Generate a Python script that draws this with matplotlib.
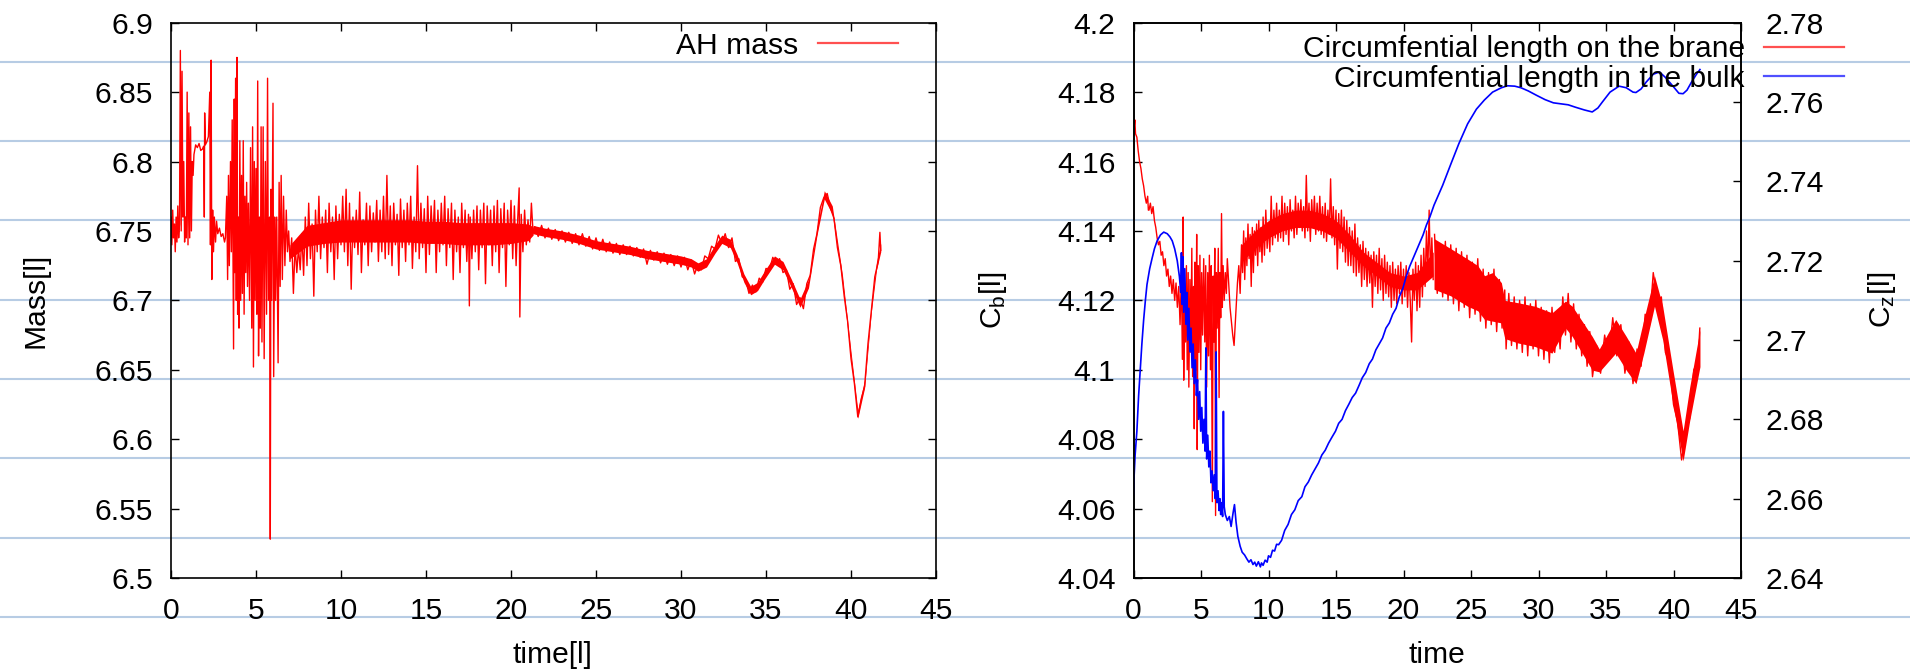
import numpy as np
import matplotlib
matplotlib.use("Agg")
import matplotlib.pyplot as plt
from matplotlib.lines import Line2D

plt.rcParams['font.family'] = ['Liberation Sans', 'DejaVu Sans']
plt.rcParams['mathtext.fontset'] = 'custom'
plt.rcParams['mathtext.rm'] = 'Liberation Sans'
plt.rcParams['mathtext.it'] = 'Liberation Sans'

# ---------------------------------------------------------------- ticks
time_ticks = [0, 5, 10, 15, 20, 25, 30, 35, 40, 45]
time_tick_labels = ["0", "5", "10", "15", "20", "25", "30", "35", "40", "45"]
mass_ticks = [6.5, 6.55, 6.6, 6.65, 6.7, 6.75, 6.8, 6.85, 6.9]
mass_tick_labels = ["6.5", "6.55", "6.6", "6.65", "6.7", "6.75", "6.8", "6.85", "6.9"]
cb_ticks = [4.04, 4.06, 4.08, 4.1, 4.12, 4.14, 4.16, 4.18, 4.2]
cb_tick_labels = ["4.04", "4.06", "4.08", "4.1", "4.12", "4.14", "4.16", "4.18", "4.2"]
cz_ticks = [2.64, 2.66, 2.68, 2.7, 2.72, 2.74, 2.76, 2.78]
cz_tick_labels = ["2.64", "2.66", "2.68", "2.7", "2.72", "2.74", "2.76", "2.78"]

# ---------------------------------------------------------------- AH mass (time, mass)
mass_samples = [
    (0.00, 6.760), (0.05, 6.740), (0.10, 6.765), (0.15, 6.745), (0.20, 6.755), (0.25, 6.735),
    (0.30, 6.760), (0.35, 6.742), (0.40, 6.768), (0.45, 6.745), (0.50, 6.755), (0.55, 6.880),
    (0.60, 6.750), (0.65, 6.865), (0.70, 6.760), (0.75, 6.800), (0.80, 6.742), (0.85, 6.760),
    (0.90, 6.745), (0.95, 6.850), (1.00, 6.740), (1.05, 6.835), (1.10, 6.745), (1.15, 6.825),
    (1.20, 6.750), (1.25, 6.800), (1.30, 6.790), (1.35, 6.805), (1.45, 6.812), (1.55, 6.810),
    (1.65, 6.813), (1.75, 6.808), (1.85, 6.809), (1.92, 6.811), (1.96, 6.760), (1.98, 6.835),
    (2.02, 6.812), (2.10, 6.814), (2.20, 6.818), (2.28, 6.850), (2.32, 6.740), (2.36, 6.873),
    (2.40, 6.715), (2.45, 6.765), (2.50, 6.735), (2.55, 6.760), (2.62, 6.742), (2.68, 6.757),
    (2.75, 6.748), (2.85, 6.752), (2.95, 6.746), (3.05, 6.748), (3.15, 6.742), (3.20, 6.745),
    (3.28, 6.775), (3.33, 6.715), (3.38, 6.790), (3.43, 6.725), (3.50, 6.800), (3.55, 6.735),
    (3.60, 6.830), (3.66, 6.700), (3.68, 6.665), (3.72, 6.845), (3.75, 6.720), (3.80, 6.860),
    (3.84, 6.700), (3.88, 6.875), (3.92, 6.690), (3.96, 6.760), (4.00, 6.680), (4.05, 6.815),
    (4.10, 6.700), (4.15, 6.790), (4.20, 6.705), (4.25, 6.815), (4.30, 6.690), (4.35, 6.775),
    (4.40, 6.720), (4.45, 6.785), (4.50, 6.710), (4.55, 6.770), (4.62, 6.700), (4.68, 6.810),
    (4.75, 6.680), (4.80, 6.825), (4.85, 6.652), (4.90, 6.800), (4.95, 6.700), (5.00, 6.795),
    (5.05, 6.690), (5.10, 6.858), (5.15, 6.660), (5.20, 6.760), (5.25, 6.680), (5.30, 6.825),
    (5.35, 6.670), (5.42, 6.825), (5.48, 6.658), (5.55, 6.800), (5.62, 6.690), (5.68, 6.860),
    (5.73, 6.700), (5.80, 6.760), (5.84, 6.528), (5.88, 6.780), (5.92, 6.700), (6.00, 6.842),
    (6.04, 6.645), (6.10, 6.760), (6.15, 6.700), (6.22, 6.760), (6.30, 6.655), (6.36, 6.785),
    (6.42, 6.710), (6.48, 6.790), (6.55, 6.715), (6.62, 6.775), (6.70, 6.725), (6.78, 6.765),
    (6.85, 6.735), (6.92, 6.750), (7.00, 6.728), (7.10, 6.745), (7.20, 6.705), (7.30, 6.740),
    (7.40, 6.720), (7.50, 6.738), (7.60, 6.722), (7.70, 6.748), (7.80, 6.718), (7.90, 6.760),
    (8.00, 6.725), (8.10, 6.770), (8.20, 6.730), (8.30, 6.755), (8.40, 6.703), (8.50, 6.765),
    (8.60, 6.735), (8.70, 6.775), (8.80, 6.730), (8.90, 6.760), (9.00, 6.738), (9.10, 6.765),
    (9.20, 6.720), (9.30, 6.770), (9.40, 6.735), (9.50, 6.760), (9.60, 6.715), (9.70, 6.768),
    (9.80, 6.730), (9.90, 6.762), (10.00, 6.740), (10.10, 6.775), (10.20, 6.735), (10.30, 6.780),
    (10.40, 6.725), (10.50, 6.770), (10.60, 6.708), (10.70, 6.760), (10.80, 6.738), (10.90, 6.765),
    (11.00, 6.733), (11.10, 6.778), (11.20, 6.720), (11.30, 6.758), (11.40, 6.740), (11.50, 6.770),
    (11.60, 6.725), (11.70, 6.768), (11.80, 6.735), (11.90, 6.763), (12.00, 6.742), (12.10, 6.772),
    (12.20, 6.728), (12.30, 6.765), (12.40, 6.735), (12.50, 6.775), (12.60, 6.730), (12.70, 6.790),
    (12.80, 6.733), (12.90, 6.768), (13.00, 6.725), (13.10, 6.770), (13.20, 6.740), (13.30, 6.762),
    (13.40, 6.718), (13.50, 6.773), (13.60, 6.738), (13.70, 6.765), (13.80, 6.728), (13.90, 6.770),
    (14.00, 6.740), (14.10, 6.775), (14.20, 6.723), (14.30, 6.760), (14.40, 6.735), (14.50, 6.797),
    (14.60, 6.730), (14.70, 6.770), (14.80, 6.738), (14.90, 6.766), (15.00, 6.720), (15.10, 6.775),
    (15.20, 6.733), (15.30, 6.768), (15.40, 6.742), (15.50, 6.772), (15.60, 6.720), (15.70, 6.765),
    (15.80, 6.735), (15.90, 6.770), (16.00, 6.740), (16.10, 6.775), (16.20, 6.725), (16.30, 6.766),
    (16.40, 6.738), (16.50, 6.770), (16.60, 6.715), (16.70, 6.765), (16.80, 6.735), (16.90, 6.760),
    (17.00, 6.720), (17.10, 6.770), (17.20, 6.738), (17.30, 6.765), (17.40, 6.728), (17.50, 6.762),
    (17.55, 6.696), (17.60, 6.760), (17.70, 6.730), (17.80, 6.765), (17.90, 6.735), (18.00, 6.768),
    (18.10, 6.722), (18.20, 6.765), (18.30, 6.738), (18.40, 6.770), (18.50, 6.712), (18.60, 6.768),
    (18.70, 6.740), (18.80, 6.765), (18.90, 6.725), (19.00, 6.768), (19.10, 6.735), (19.20, 6.772),
    (19.30, 6.720), (19.40, 6.766), (19.50, 6.738), (19.60, 6.770), (19.70, 6.710), (19.80, 6.765),
    (19.90, 6.740), (20.00, 6.772), (20.10, 6.730), (20.20, 6.768), (20.30, 6.725), (20.40, 6.760),
    (20.48, 6.781), (20.52, 6.688), (20.60, 6.762), (20.70, 6.735), (20.80, 6.765), (20.90, 6.740),
    (21.00, 6.758), (21.10, 6.742), (21.20, 6.770), (21.30, 6.748), (21.40, 6.753), (21.60, 6.746),
    (21.80, 6.754), (22.00, 6.745), (22.20, 6.752), (22.40, 6.744), (22.60, 6.751), (22.80, 6.743),
    (23.00, 6.750), (23.20, 6.742), (23.40, 6.749), (23.60, 6.741), (23.80, 6.748), (24.00, 6.740),
    (24.20, 6.748), (24.40, 6.739), (24.60, 6.746), (24.80, 6.737), (25.00, 6.745), (25.20, 6.736),
    (25.40, 6.744), (25.60, 6.735), (25.80, 6.742), (26.00, 6.734), (26.20, 6.741), (26.40, 6.733),
    (26.60, 6.740), (26.80, 6.733), (27.00, 6.739), (27.20, 6.732), (27.40, 6.738), (27.60, 6.731),
    (27.80, 6.737), (28.00, 6.726), (28.20, 6.736), (28.40, 6.729), (28.60, 6.735), (28.80, 6.727),
    (29.00, 6.734), (29.20, 6.726), (29.40, 6.733), (29.60, 6.725), (29.80, 6.732), (30.00, 6.724),
    (30.20, 6.731), (30.40, 6.722), (30.60, 6.729), (30.80, 6.719), (31.00, 6.726), (31.20, 6.722),
    (31.40, 6.732), (31.60, 6.730), (31.80, 6.739), (32.00, 6.737), (32.20, 6.747), (32.40, 6.741),
    (32.60, 6.748), (32.80, 6.738), (33.00, 6.745), (33.20, 6.728), (33.40, 6.730), (33.60, 6.717),
    (33.80, 6.715), (34.00, 6.705), (34.20, 6.711), (34.40, 6.706), (34.60, 6.716), (34.80, 6.713),
    (35.00, 6.723), (35.20, 6.722), (35.40, 6.731), (35.60, 6.726), (35.80, 6.730), (36.00, 6.720),
    (36.20, 6.722), (36.40, 6.708), (36.60, 6.712), (36.80, 6.697), (37.00, 6.702), (37.20, 6.694),
    (37.40, 6.712), (37.60, 6.718), (37.80, 6.737), (38.00, 6.748), (38.20, 6.767), (38.40, 6.774),
    (38.60, 6.777), (38.80, 6.766), (39.00, 6.759), (39.20, 6.738), (39.40, 6.725), (39.60, 6.703),
    (39.80, 6.685), (40.00, 6.658), (40.20, 6.640), (40.40, 6.616), (40.60, 6.629), (40.80, 6.638),
    (41.00, 6.669), (41.20, 6.693), (41.40, 6.717), (41.60, 6.728), (41.70, 6.749), (41.75, 6.736),
]

# dense core of the mass fluctuations: time, lower and upper edge
mass_core_time = [7.0, 8.0, 9.0, 10.0, 11.0, 12.0, 13.0, 14.0, 15.0, 16.0, 17.0, 18.0,
                  19.0, 20.0, 21.0, 21.3]
mass_core_low = [6.730, 6.739, 6.741, 6.742, 6.742, 6.742, 6.742, 6.742, 6.741, 6.741,
                 6.740, 6.740, 6.740, 6.741, 6.743, 6.747]
mass_core_high = [6.740, 6.754, 6.756, 6.758, 6.758, 6.758, 6.758, 6.758, 6.757, 6.757,
                  6.756, 6.756, 6.756, 6.756, 6.755, 6.753]

# late-time mass oscillation band: time, lower and upper edge
mass_band_time = [21.3, 22.0, 23.0, 24.0, 25.0, 26.0, 27.0, 28.0, 29.0, 30.0, 30.6, 31.0,
                  31.5, 32.0, 32.4, 32.9, 33.3, 33.7, 34.1, 34.5, 34.9, 35.5, 36.0, 36.5,
                  37.0, 37.5, 38.0, 38.43, 38.9, 39.5, 40.0, 40.4, 40.8, 41.2, 41.5, 41.75]
mass_band_low = [6.748, 6.746, 6.744, 6.741, 6.737, 6.735, 6.733, 6.730, 6.728, 6.726,
                 6.724, 6.721, 6.724, 6.734, 6.741, 6.738, 6.727, 6.713, 6.704, 6.707,
                 6.715, 6.726, 6.722, 6.709, 6.695, 6.709, 6.747, 6.773, 6.762, 6.712,
                 6.657, 6.615, 6.637, 6.692, 6.722, 6.735]
mass_band_high = [6.754, 6.752, 6.750, 6.747, 6.743, 6.741, 6.739, 6.736, 6.734, 6.732,
                  6.730, 6.727, 6.730, 6.740, 6.747, 6.744, 6.733, 6.719, 6.710, 6.713,
                  6.721, 6.732, 6.728, 6.715, 6.701, 6.715, 6.753, 6.779, 6.768, 6.718,
                  6.663, 6.621, 6.643, 6.698, 6.728, 6.741]

# ---------------------------------------------------------------- circumference on the brane (time, C_b)
brane_samples = [
    (0.00, 4.175), (0.05, 4.170), (0.10, 4.172), (0.15, 4.168), (0.25, 4.167), (0.35, 4.163),
    (0.45, 4.160), (0.55, 4.158), (0.65, 4.155), (0.75, 4.153), (0.85, 4.150), (0.95, 4.148),
    (1.05, 4.150), (1.10, 4.146), (1.15, 4.146), (1.25, 4.148), (1.35, 4.145), (1.45, 4.147),
    (1.55, 4.143), (1.65, 4.141), (1.75, 4.138), (1.85, 4.136), (1.95, 4.137), (2.05, 4.133),
    (2.15, 4.134), (2.25, 4.130), (2.35, 4.132), (2.45, 4.127), (2.55, 4.129), (2.65, 4.124),
    (2.75, 4.127), (2.85, 4.122), (2.95, 4.126), (3.05, 4.120), (3.15, 4.125), (3.25, 4.118),
    (3.35, 4.124), (3.45, 4.113), (3.55, 4.128), (3.62, 4.103), (3.68, 4.144), (3.72, 4.097),
    (3.78, 4.125), (3.85, 4.108), (3.92, 4.130), (3.98, 4.100), (4.05, 4.128), (4.10, 4.095),
    (4.18, 4.126), (4.25, 4.105), (4.32, 4.135), (4.38, 4.098), (4.45, 4.124), (4.50, 4.083),
    (4.55, 4.131), (4.62, 4.100), (4.68, 4.139), (4.72, 4.077), (4.78, 4.130), (4.85, 4.105),
    (4.92, 4.133), (4.98, 4.100), (5.05, 4.128), (5.12, 4.110), (5.20, 4.132), (5.28, 4.108),
    (5.35, 4.130), (5.42, 4.095), (5.50, 4.128), (5.56, 4.104), (5.62, 4.133), (5.70, 4.100),
    (5.76, 4.130), (5.84, 4.062), (5.90, 4.127), (5.96, 4.108), (6.02, 4.135), (6.08, 4.058),
    (6.14, 4.128), (6.20, 4.112), (6.28, 4.135), (6.34, 4.092), (6.40, 4.128), (6.46, 4.115),
    (6.52, 4.145), (6.58, 4.118), (6.64, 4.130), (6.72, 4.120), (6.80, 4.128), (6.88, 4.122),
    (6.95, 4.132), (7.05, 4.125), (7.15, 4.118), (7.25, 4.114), (7.35, 4.110), (7.45, 4.107),
    (7.52, 4.112), (7.60, 4.118), (7.70, 4.125), (7.80, 4.130), (7.90, 4.122), (8.00, 4.136),
    (8.08, 4.128), (8.16, 4.140), (8.24, 4.126), (8.32, 4.138), (8.40, 4.130), (8.48, 4.142),
    (8.56, 4.132), (8.64, 4.139), (8.72, 4.124), (8.80, 4.141), (8.88, 4.128), (8.96, 4.140),
    (9.04, 4.133), (9.12, 4.142), (9.20, 4.130), (9.28, 4.143), (9.36, 4.134), (9.44, 4.141),
    (9.52, 4.131), (9.60, 4.144), (9.70, 4.133), (9.80, 4.146), (9.90, 4.135), (10.00, 4.142),
    (10.10, 4.134), (10.20, 4.150), (10.30, 4.136), (10.40, 4.146), (10.50, 4.138), (10.60, 4.148),
    (10.70, 4.137), (10.80, 4.146), (10.90, 4.138), (11.00, 4.150), (11.10, 4.137), (11.20, 4.148),
    (11.30, 4.139), (11.40, 4.147), (11.50, 4.136), (11.60, 4.149), (11.70, 4.140), (11.80, 4.146),
    (11.90, 4.138), (12.00, 4.150), (12.10, 4.139), (12.20, 4.148), (12.30, 4.141), (12.40, 4.149),
    (12.50, 4.140), (12.60, 4.147), (12.70, 4.138), (12.80, 4.156), (12.90, 4.140), (13.00, 4.148),
    (13.10, 4.137), (13.20, 4.149), (13.30, 4.141), (13.40, 4.150), (13.50, 4.139), (13.60, 4.148),
    (13.70, 4.140), (13.80, 4.150), (13.90, 4.139), (14.00, 4.147), (14.10, 4.138), (14.20, 4.148),
    (14.30, 4.137), (14.40, 4.146), (14.50, 4.139), (14.60, 4.155), (14.70, 4.138), (14.80, 4.147),
    (14.90, 4.136), (15.00, 4.146), (15.10, 4.129), (15.20, 4.145), (15.30, 4.135), (15.40, 4.146),
    (15.50, 4.134), (15.60, 4.144), (15.70, 4.131), (15.80, 4.143), (15.90, 4.130), (16.00, 4.141),
    (16.10, 4.130), (16.20, 4.140), (16.30, 4.128), (16.40, 4.142), (16.50, 4.127), (16.60, 4.138),
    (16.70, 4.128), (16.80, 4.136), (16.90, 4.124), (17.00, 4.137), (17.10, 4.126), (17.20, 4.135),
    (17.30, 4.124), (17.40, 4.134), (17.50, 4.125), (17.60, 4.133), (17.70, 4.118), (17.80, 4.134),
    (17.90, 4.124), (18.00, 4.133), (18.10, 4.122), (18.20, 4.135), (18.30, 4.123), (18.40, 4.132),
    (18.50, 4.120), (18.60, 4.133), (18.70, 4.122), (18.80, 4.131), (18.90, 4.121), (19.00, 4.130),
    (19.10, 4.118), (19.20, 4.131), (19.30, 4.120), (19.40, 4.129), (19.50, 4.119), (19.60, 4.130),
    (19.70, 4.122), (19.80, 4.131), (19.90, 4.119), (20.00, 4.129), (20.10, 4.121), (20.20, 4.130),
    (20.30, 4.118), (20.40, 4.128), (20.50, 4.120), (20.60, 4.108), (20.70, 4.129), (20.80, 4.120),
    (20.90, 4.131), (21.00, 4.117), (21.10, 4.130), (21.20, 4.118), (21.30, 4.133), (21.40, 4.121),
    (21.50, 4.135), (21.60, 4.124), (21.70, 4.140), (21.80, 4.128), (21.90, 4.146), (22.00, 4.127),
    (22.10, 4.138), (22.20, 4.126),
]

# dense core of the brane fluctuations before the late band: time, lower and upper edge
brane_core_time = [8.0, 9.0, 10.0, 11.0, 12.0, 13.0, 14.0, 15.0, 16.0, 17.0, 18.0, 19.0,
                   20.0, 21.0, 22.2]
brane_core_low = [4.131, 4.135, 4.138, 4.140, 4.141, 4.141, 4.140, 4.138, 4.134, 4.130,
                  4.127, 4.124, 4.123, 4.123, 4.127]
brane_core_high = [4.136, 4.140, 4.143, 4.145, 4.146, 4.146, 4.145, 4.143, 4.139, 4.134,
                   4.131, 4.128, 4.127, 4.128, 4.134]

# late-time brane oscillation band: time, lower and upper edge of C_b
brane_band_time = [22.26, 23.5, 24.75, 25.5, 26.0, 26.6, 27.25, 27.5, 28.5, 29.74, 31.0, 32.0,
                   32.5, 33.98, 34.5, 35.72, 36.5, 37.22, 37.8, 38.59, 39.2, 39.96, 40.71,
                   41.2, 41.96]
brane_band_low = [4.1232, 4.1213, 4.1183, 4.1170, 4.1145, 4.1140, 4.1135, 4.1090, 4.1077,
                  4.1067, 4.1048, 4.1120, 4.1096, 4.0999, 4.0994, 4.1048, 4.0999, 4.0960,
                  4.1048, 4.1183, 4.1086, 4.0902, 4.0737, 4.0853, 4.1009]
brane_band_high = [4.1378, 4.1349, 4.1319, 4.1300, 4.1271, 4.1280, 4.1251, 4.1200, 4.1193,
                   4.1183, 4.1164, 4.1198, 4.1183, 4.1096, 4.1060, 4.1145, 4.1096, 4.1048,
                   4.1145, 4.1271, 4.1183, 4.0999, 4.0824, 4.0950, 4.1116]

# spikes sticking out of the late-time band (time, C_b)
brane_ripple = [
    (22.3, 4.139), (22.5, 4.122), (22.7, 4.136), (22.9, 4.121), (23.1, 4.137), (23.3, 4.120),
    (23.5, 4.136), (23.7, 4.119), (23.9, 4.135), (24.1, 4.117), (24.3, 4.134), (24.5, 4.118),
    (24.7, 4.133), (24.9, 4.115), (25.1, 4.131), (25.3, 4.116), (25.5, 4.132), (25.7, 4.114),
    (25.9, 4.129), (26.1, 4.112), (26.3, 4.128), (26.5, 4.113), (26.7, 4.129), (26.9, 4.111),
    (27.1, 4.126), (27.3, 4.112), (27.5, 4.123), (27.6, 4.106), (27.8, 4.122), (28.0, 4.107),
    (28.2, 4.121), (28.4, 4.106), (28.6, 4.120), (28.8, 4.105), (29.0, 4.121), (29.2, 4.104),
    (29.4, 4.119), (29.6, 4.106), (29.8, 4.120), (30.0, 4.104), (30.2, 4.118), (30.4, 4.103),
    (30.6, 4.117), (30.8, 4.102), (31.0, 4.118), (31.2, 4.105), (31.4, 4.116), (31.6, 4.106),
    (31.8, 4.121), (32.0, 4.110), (32.2, 4.122), (32.4, 4.108), (32.6, 4.119), (32.8, 4.106),
    (33.0, 4.116), (33.2, 4.104), (33.4, 4.113), (33.6, 4.101), (33.8, 4.111), (34.0, 4.098),
    (34.3, 4.107), (34.6, 4.099), (34.9, 4.110), (35.2, 4.103), (35.5, 4.115), (35.8, 4.104),
    (36.1, 4.113), (36.4, 4.099), (36.7, 4.108), (37.0, 4.096), (37.3, 4.106), (37.6, 4.101),
    (37.9, 4.116), (38.2, 4.112), (38.5, 4.128), (38.8, 4.120), (39.1, 4.121), (39.4, 4.105),
    (39.7, 4.102), (40.0, 4.090), (40.3, 4.085), (40.6, 4.074), (40.9, 4.082), (41.2, 4.086),
    (41.5, 4.100), (41.8, 4.102), (41.95, 4.112),
]

# ---------------------------------------------------------------- circumference in the bulk (time, C_z)
bulk_samples = [
    (0.00, 2.661), (0.05, 2.666), (0.12, 2.671), (0.25, 2.677), (0.38, 2.686), (0.50, 2.6925),
    (0.62, 2.699), (0.75, 2.705), (0.88, 2.710), (1.00, 2.714), (1.20, 2.718), (1.37, 2.7205),
    (1.55, 2.723), (1.75, 2.725), (2.00, 2.7265), (2.24, 2.7272), (2.50, 2.7268), (2.70, 2.726),
    (2.87, 2.725), (3.05, 2.723), (3.24, 2.720), (3.40, 2.716), (3.50, 2.712), (3.55, 2.722),
    (3.60, 2.709), (3.66, 2.721), (3.72, 2.707), (3.80, 2.718), (3.88, 2.704), (3.95, 2.712),
    (4.02, 2.700), (4.10, 2.708), (4.18, 2.697), (4.26, 2.703), (4.34, 2.693), (4.42, 2.699),
    (4.50, 2.689), (4.58, 2.695), (4.66, 2.686), (4.74, 2.690), (4.82, 2.680), (4.90, 2.687),
    (4.98, 2.677), (5.06, 2.683), (5.14, 2.674), (5.22, 2.680), (5.30, 2.672), (5.36, 2.698),
    (5.42, 2.670), (5.50, 2.676), (5.58, 2.668), (5.66, 2.672), (5.74, 2.664), (5.82, 2.667),
    (5.90, 2.662), (5.98, 2.666), (6.06, 2.660), (6.12, 2.697), (6.18, 2.659), (6.26, 2.662),
    (6.34, 2.657), (6.40, 2.660), (6.46, 2.656), (6.52, 2.659), (6.60, 2.6555), (6.66, 2.682),
    (6.72, 2.658), (6.80, 2.656), (6.95, 2.6545), (7.10, 2.6555), (7.23, 2.6530), (7.38, 2.6565),
    (7.48, 2.6585), (7.60, 2.6540), (7.73, 2.6505), (7.90, 2.6480), (8.05, 2.6465), (8.23, 2.6458),
    (8.40, 2.6448), (8.55, 2.6440), (8.70, 2.6446), (8.85, 2.6434), (8.98, 2.6440), (9.10, 2.6430),
    (9.25, 2.6441), (9.40, 2.6428), (9.48, 2.6438), (9.60, 2.6432), (9.75, 2.6445), (9.90, 2.6440),
    (10.00, 2.6456), (10.15, 2.6452), (10.30, 2.6470), (10.45, 2.6468), (10.60, 2.6485),
    (10.75, 2.6484), (10.97, 2.6495), (11.20, 2.6520), (11.45, 2.6535), (11.70, 2.6560),
    (11.95, 2.6572), (12.20, 2.6595), (12.47, 2.6605), (12.70, 2.6630), (12.95, 2.6642),
    (13.20, 2.6660), (13.45, 2.6675), (13.70, 2.6690), (13.95, 2.6710), (14.20, 2.6722),
    (14.45, 2.6740), (14.70, 2.6755), (14.96, 2.6770), (15.20, 2.6790), (15.45, 2.6800),
    (15.70, 2.6822), (15.95, 2.6838), (16.20, 2.6855), (16.45, 2.6866), (16.70, 2.6885),
    (16.95, 2.6905), (17.20, 2.6918), (17.46, 2.6940), (17.70, 2.6952), (17.95, 2.6975),
    (18.20, 2.6990), (18.45, 2.7005), (18.70, 2.7030), (18.95, 2.7043), (19.20, 2.7065),
    (19.45, 2.7080), (19.70, 2.7110), (19.95, 2.7130), (20.20, 2.7160), (20.45, 2.7185),
    (20.70, 2.7205), (20.95, 2.7225), (21.20, 2.7245), (21.45, 2.7265), (21.70, 2.7290),
    (21.95, 2.7310), (22.26, 2.7340), (22.90, 2.7390), (23.50, 2.7443), (24.10, 2.7495),
    (24.75, 2.7545), (25.40, 2.7582), (25.99, 2.7605), (26.60, 2.7625), (27.25, 2.7636),
    (27.70, 2.7641), (28.24, 2.7640), (28.70, 2.7636), (29.24, 2.7628), (29.85, 2.7617),
    (30.49, 2.7606), (31.10, 2.7598), (31.73, 2.7595), (32.20, 2.7593), (32.73, 2.7587),
    (33.40, 2.7580), (33.98, 2.7575), (34.40, 2.7585), (34.73, 2.7600), (35.30, 2.7625),
    (35.97, 2.7640), (36.50, 2.7636), (37.00, 2.7625), (37.22, 2.7624), (37.60, 2.7633),
    (37.97, 2.7650), (38.50, 2.7670), (38.96, 2.7676), (39.40, 2.7662), (39.96, 2.7640),
    (40.40, 2.7622), (40.71, 2.7621), (41.00, 2.7630), (41.33, 2.7650), (41.70, 2.7670),
    (41.96, 2.7682),
]

mass = np.array(mass_samples)
brane = np.array(brane_samples)
ripple = np.array(brane_ripple)
bulk = np.array(bulk_samples)

# ---------------------------------------------------------------- figure layout
W, H = 1910, 669
fig = plt.figure(figsize=(W / 100, H / 100), dpi=100)
FS = 21.6
TICK_LEN = 5.8
RED = '#ff0000'
BLUE = '#0000ff'

# faint ruled lines running across the whole sheet
for y_px in [61.7, 141.0, 220.3, 299.6, 379.0, 458.3, 537.6, 617.0]:
    fig.add_artist(Line2D([0, 1], [1 - y_px / H] * 2, transform=fig.transFigure,
                          color='#b7cce4', lw=1.5, zorder=-1))

bottom = (H - 578) / H
height = 555.3 / H
ax1 = fig.add_axes([171 / W, bottom, 765 / W, height])
ax3 = fig.add_axes([1133.5 / W, bottom, 607.5 / W, height])
ax4 = ax3.twinx()
for ax in (ax1, ax3, ax4):
    ax.set_facecolor('none')
    for sp in ax.spines.values():
        sp.set_linewidth(1.2)

# left panel: apparent horizon mass
ax1.fill_between(mass_core_time, mass_core_low, mass_core_high, color=RED, lw=0)
ax1.fill_between(mass_band_time, mass_band_low, mass_band_high, color=RED, lw=0)
ax1.plot(mass[:, 0], mass[:, 1], color=RED, lw=1.0)
ax1.set_xlim(0, 45)
ax1.set_ylim(6.5, 6.9)
ax1.set_xticks(time_ticks, time_tick_labels)
ax1.set_yticks(mass_ticks, mass_tick_labels)
ax1.tick_params(direction='in', top=True, right=True, length=TICK_LEN, width=1.0,
                labelsize=FS)
ax1.tick_params(axis='x', pad=14.0)
ax1.tick_params(axis='y', pad=13.0)

h_mass = Line2D([], [], color='#ff5050', lw=1.6)
ax1.legend([h_mass], ['AH mass'], loc='center right',
           bbox_to_anchor=(898 / W, 1 - 45.7 / H), bbox_transform=fig.transFigure,
           frameon=False, markerfirst=False, handlelength=2.67, handletextpad=0.67,
           borderpad=0, borderaxespad=0, fontsize=FS)

# right panel: circumferences on the brane (left axis) and in the bulk (right axis)
ax3.fill_between(brane_core_time, brane_core_low, brane_core_high, color=RED, lw=0)
ax3.fill_between(brane_band_time, brane_band_low, brane_band_high, color=RED, lw=0)
ax3.plot(brane[:, 0], brane[:, 1], color=RED, lw=1.0)
ax3.plot(ripple[:, 0], ripple[:, 1], color=RED, lw=1.0)
ax3.set_xlim(0, 45)
ax3.set_ylim(4.04, 4.2)
ax3.set_xticks(time_ticks, time_tick_labels)
ax3.set_yticks(cb_ticks, cb_tick_labels)
ax3.tick_params(direction='in', top=True, right=False, length=TICK_LEN, width=1.0,
                labelsize=FS)
ax3.tick_params(axis='x', pad=14.0)
ax3.tick_params(axis='y', pad=13.0)

ax4.plot(bulk[:, 0], bulk[:, 1], color=BLUE, lw=1.2)
ax4.set_ylim(2.64, 2.78)
ax4.set_yticks(cz_ticks, cz_tick_labels)
ax4.tick_params(direction='in', length=TICK_LEN, width=1.0, labelsize=FS, pad=17.5)

h_brane = Line2D([], [], color='#ff5050', lw=1.6)
h_bulk = Line2D([], [], color='#5050ff', lw=1.6)
ax4.legend([h_brane, h_bulk],
           ['Circumfential length on the brane', 'Circumfential length in the bulk'],
           loc='center right', bbox_to_anchor=(1844 / W, 1 - 64 / H),
           bbox_transform=fig.transFigure, frameon=False, markerfirst=False,
           handlelength=2.67, handletextpad=0.64, labelspacing=0.04,
           borderpad=0, borderaxespad=0, fontsize=FS)

# axis titles
fig.text(35 / W, 1 - 300 / H, 'Mass[l]', rotation=90, ha='center', va='center', fontsize=FS)
fig.text(552 / W, 1 - 655 / H, 'time[l]', ha='center', va='center', fontsize=FS)
fig.text(993 / W, 1 - 300 / H, r'C$_\mathrm{b}$[l]', rotation=90, ha='center', va='center',
         fontsize=FS)
fig.text(1882 / W, 1 - 300 / H, r'C$_\mathrm{z}$[l]', rotation=90, ha='center', va='center',
         fontsize=FS)
fig.text(1437 / W, 1 - 655 / H, 'time', ha='center', va='center', fontsize=FS)

fig.savefig('out.png', dpi=100, facecolor='white')
